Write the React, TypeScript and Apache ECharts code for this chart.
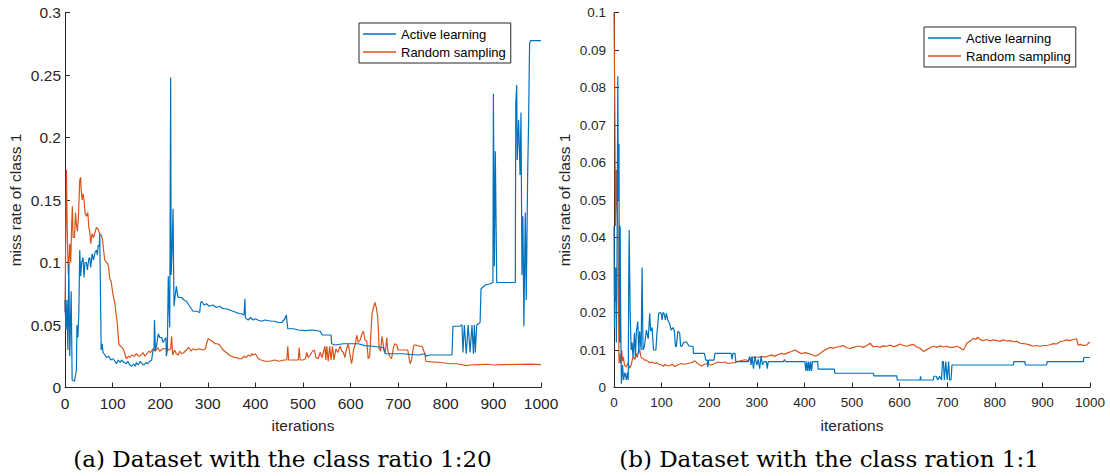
import React, { useEffect, useRef } from "react";
import * as echarts from "echarts";

const BLUE = "#0072BD";
const ORANGE = "#D95319";
const AXIS = "#262626";

const seriesNames = ["Active learning", "Random sampling"];
const captions = ["(a) Dataset with the class ratio 1:20", "(b) Dataset with the class ration 1:1"];
const yAxisName = "miss rate of class 1";
const xAxisName = "iterations";

// Panel (a): class ratio 1:20
const activeLeft: [number, number][] = [
  [0,0.07],[2,0.046],[4,0.07],[6,0.03],[8,0.099],[10,0.025],[12,0.06],[13,0.077],[15,0.006],[20,0.005],[22,0.01],[24,0.014],[25,0.05],[27,0.04],[29,0.059],[31,0.11],[33,0.089],[35,0.1],[38,0.104],[40,0.088],[42,0.1],[45,0.1],[47,0.094],[50,0.103],[52,0.104],[54,0.096],[57,0.107],[60,0.102],[63,0.108],[66,0.11],[68,0.106],[70,0.114],[72,0.113],[73,0.123],[75,0.06],[76,0.03],[78,0.035],[80,0.028],[84,0.026],[87,0.024],[92,0.025],[96,0.022],[101,0.023],[105,0.021],[108,0.019],[112,0.022],[116,0.02],[119,0.022],[124,0.02],[129,0.019],[132,0.021],[136,0.018],[140,0.017],[144,0.019],[148,0.017],[150,0.02],[154,0.018],[158,0.021],[162,0.019],[166,0.018],[170,0.02],[174,0.019],[178,0.021],[182,0.022],[185,0.03],[187,0.03],[188,0.054],[190,0.03],[193,0.035],[196,0.043],[199,0.04],[203,0.04],[206,0.036],[209,0.038],[212,0.04],[213,0.025],[215,0.03],[217,0.089],[219,0.06],[220,0.048],[222,0.248],[223,0.09],[225,0.11],[227,0.143],[228,0.1],[229,0.065],[231,0.072],[234,0.081],[236,0.075],[238,0.072],[245,0.072],[250,0.07],[255,0.069],[262,0.065],[269,0.061],[276,0.061],[283,0.06],[285,0.068],[287,0.069],[292,0.066],[297,0.067],[303,0.065],[311,0.066],[318,0.064],[325,0.065],[332,0.063],[339,0.063],[346,0.062],[353,0.061],[360,0.06],[367,0.059],[371,0.059],[376,0.058],[378,0.071],[379,0.056],[381,0.055],[385,0.054],[390,0.056],[395,0.054],[400,0.055],[405,0.054],[413,0.053],[420,0.054],[434,0.053],[440,0.053],[448,0.052],[455,0.052],[462,0.055],[465,0.058],[466,0.058],[468,0.047],[480,0.047],[490,0.046],[504,0.0455],[520,0.046],[536,0.045],[540,0.042],[559,0.042],[560,0.035],[567,0.034],[585,0.035],[616,0.035],[630,0.0335],[645,0.033],[668,0.032],[673,0.027],[707,0.027],[743,0.026],[756,0.027],[759,0.025],[765,0.026],[774,0.026],[790,0.026],[813,0.026],[815,0.049],[830,0.049],[832,0.05],[834,0.05],[836,0.028],[839,0.05],[843,0.027],[847,0.05],[851,0.028],[855,0.05],[858,0.027],[860,0.05],[862,0.028],[865,0.05],[872,0.052],[874,0.079],[883,0.082],[893,0.083],[899,0.084],[900,0.235],[902,0.097],[904,0.189],[907,0.084],[946,0.084],[947,0.227],[949,0.242],[950,0.182],[953,0.214],[956,0.17],[958,0.22],[960,0.09],[962,0.137],[964,0.049],[967,0.14],[969,0.07],[972,0.171],[974,0.214],[976,0.275],[978,0.2775],[984,0.2775],[1000,0.2775]
];
const randomLeft: [number, number][] = [
  [0,0.06],[1,0.1],[3,0.174],[5,0.12],[7,0.09],[8,0.097],[10,0.115],[12,0.1],[14,0.13],[15.5,0.145],[17,0.12],[20,0.12],[22,0.14],[24,0.13],[26,0.125],[28,0.135],[31,0.166],[33,0.168],[34,0.158],[36,0.15],[38,0.155],[40,0.15],[42,0.14],[45,0.137],[48,0.14],[50,0.128],[52,0.125],[54,0.115],[57,0.123],[60,0.12],[63,0.124],[66,0.128],[69,0.127],[73,0.123],[76,0.122],[79,0.118],[81,0.11],[83.5,0.102],[87,0.1],[90,0.099],[92,0.095],[94,0.087],[97,0.085],[99,0.079],[102,0.072],[104.5,0.068],[107,0.06],[110,0.051],[112,0.04],[113.6,0.034],[117,0.033],[120,0.032],[122,0.031],[125,0.028],[129,0.023],[133,0.025],[136,0.024],[140,0.026],[145,0.025],[150,0.027],[155,0.025],[160,0.026],[164,0.028],[168,0.025],[172,0.027],[176,0.029],[180,0.028],[185,0.031],[190,0.029],[195,0.032],[199,0.029],[205,0.031],[213,0.031],[218,0.03],[222,0.031],[224,0.041],[226,0.026],[230,0.03],[234,0.027],[238,0.026],[241,0.029],[245,0.027],[250,0.028],[255,0.03],[260,0.032],[265,0.029],[269,0.031],[275,0.03],[282,0.031],[290,0.03],[295,0.031],[298,0.036],[301,0.039],[305,0.038],[310,0.037],[315,0.035],[320,0.035],[325,0.034],[330,0.031],[335,0.029],[339,0.028],[345,0.026],[350,0.025],[355,0.024],[360,0.024],[365,0.023],[371,0.023],[376,0.025],[381,0.024],[385,0.026],[390,0.025],[392,0.027],[395,0.026],[400,0.027],[403,0.025],[406,0.023],[412,0.022],[420,0.021],[430,0.021],[440,0.022],[450,0.021],[460,0.022],[466,0.022],[468,0.033],[470,0.022],[480,0.022],[490,0.022],[492,0.032],[494,0.022],[500,0.022],[505,0.023],[508,0.028],[511,0.024],[515,0.026],[520,0.029],[524,0.03],[527,0.024],[532,0.023],[536,0.028],[540,0.024],[544,0.03],[546,0.033],[548,0.022],[550,0.033],[553,0.021],[556,0.033],[559,0.022],[562,0.033],[565,0.022],[569,0.031],[573,0.028],[578,0.033],[582,0.029],[585,0.028],[588,0.024],[591,0.03],[595,0.035],[598,0.028],[602,0.019],[604,0.023],[606,0.03],[610,0.035],[613,0.042],[616,0.036],[620,0.038],[624,0.043],[627,0.045],[630,0.038],[634,0.037],[637,0.023],[640,0.025],[643,0.045],[645,0.059],[648,0.064],[651,0.068],[654,0.064],[657,0.056],[659,0.04],[660,0.031],[663,0.029],[666,0.041],[670,0.031],[673,0.028],[676,0.04],[678,0.03],[682,0.025],[686,0.023],[690,0.032],[693,0.035],[697,0.034],[700,0.03],[710,0.03],[720,0.03],[725,0.019],[728,0.022],[731,0.03],[733,0.034],[737,0.034],[745,0.033],[750,0.033],[753,0.03],[756,0.027],[758,0.021],[770,0.0205],[790,0.02],[809,0.019],[823,0.019],[844,0.0175],[851,0.018],[870,0.0183],[888,0.0186],[900,0.018],[920,0.0183],[950,0.0185],[980,0.0187],[1000,0.0183]
];

// Panel (b): class ratio 1:1
const activeRight: [number, number][] = [
  [0,0.043],[1,0.016],[2,0.032],[3,0.023],[4,0.032],[5,0.012],[6,0.025],[8,0.083],[9,0.05],[10.5,0.065],[11,0.03],[12,0.012],[13,0.043],[14,0.02],[15.5,0.001],[18,0.006],[20,0.002],[23,0.004],[26,0.002],[28,0.004],[30,0.002],[31,0.03],[32,0.042],[33,0.03],[34,0.02],[36,0.01],[38,0.012],[40,0.008],[43,0.0145],[45,0.008],[47,0.015],[50,0.0176],[52,0.009],[54,0.015],[57,0.01],[59,0.032],[61,0.01],[64,0.011],[68,0.0153],[72,0.013],[75,0.0198],[77,0.015],[80,0.016],[83,0.01],[88,0.01],[90,0.014],[94,0.0198],[97,0.02],[99,0.0198],[101,0.018],[103,0.02],[105,0.0198],[108,0.018],[110,0.0198],[113,0.018],[117,0.017],[120,0.0153],[124,0.016],[127,0.015],[129,0.011],[131,0.0109],[134,0.015],[138,0.0145],[140,0.011],[143,0.011],[146,0.012],[152,0.0122],[158,0.011],[166,0.011],[167,0.0091],[190,0.0091],[193,0.0073],[196,0.0073],[197,0.0055],[199,0.0073],[210,0.0073],[212,0.0091],[240,0.0091],[246,0.0091],[248,0.0075],[250,0.0091],[254,0.0091],[256,0.0069],[282,0.0069],[285,0.0083],[288,0.006],[290,0.0083],[293,0.005],[296,0.0083],[300,0.006],[303,0.0075],[306,0.005],[309,0.0083],[312,0.006],[315,0.0069],[320,0.0069],[322,0.005],[324,0.0069],[352,0.0069],[356,0.0069],[358,0.0075],[360,0.0069],[401,0.0069],[403,0.0044],[405,0.0069],[407,0.0044],[409,0.0069],[411,0.0044],[413,0.0069],[415,0.0044],[417,0.0069],[428,0.0069],[429,0.0049],[463,0.0049],[464,0.0038],[545,0.0038],[546,0.0031],[594,0.0031],[595,0.002],[643,0.002],[644,0.003],[645,0.002],[671,0.002],[672,0.003],[677,0.003],[680,0.002],[684,0.003],[688,0.002],[690,0.0069],[692,0.0069],[694,0.002],[697,0.0069],[700,0.002],[703,0.0069],[705,0.002],[708,0.002],[710,0.006],[839,0.006],[840,0.0069],[863,0.0069],[864,0.006],[909,0.006],[910,0.0069],[986,0.0069],[987,0.008],[1000,0.008]
];
const randomRight: [number, number][] = [
  [0,0.1],[1.4,0.1],[2,0.07],[3,0.043],[5,0.058],[6,0.05],[7,0.047],[8.4,0.042],[10.5,0.0065],[12,0.009],[13,0.007],[14,0.0065],[16,0.01],[18,0.007],[19.6,0.0082],[22,0.006],[26,0.0055],[29,0.0065],[31,0.006],[33,0.0051],[36,0.006],[40,0.0082],[44,0.0075],[47,0.0091],[49,0.008],[51,0.0096],[54,0.01],[56,0.0085],[58,0.0078],[61,0.0078],[64,0.0073],[68,0.0073],[72,0.0069],[76,0.0066],[80,0.0068],[86,0.0064],[89,0.0066],[95,0.0062],[100,0.006],[103,0.0057],[108,0.0061],[112,0.0058],[117,0.0058],[122,0.0062],[128,0.0056],[134,0.006],[141,0.0064],[148,0.0062],[155,0.0064],[162,0.0066],[170,0.0071],[176,0.0064],[183.5,0.0057],[190,0.0062],[197,0.0064],[204,0.006],[211.5,0.0064],[218,0.0068],[226,0.0066],[232,0.0068],[240,0.0064],[247,0.0066],[254,0.0066],[261,0.007],[268,0.0072],[275,0.0074],[282,0.0072],[289,0.0078],[296,0.0082],[303,0.008],[310,0.0083],[317,0.0081],[324,0.0084],[331,0.0087],[338,0.0083],[345,0.0088],[352,0.0091],[359,0.0089],[366,0.0093],[373,0.0096],[380,0.01],[387,0.0095],[394,0.009],[401,0.0093],[408,0.0091],[415,0.0088],[422,0.0084],[429,0.0087],[436,0.0094],[443,0.01],[449,0.0104],[454,0.0107],[461,0.0105],[468,0.0108],[475,0.0109],[482,0.0112],[489,0.0106],[496,0.0104],[503,0.0107],[510,0.011],[517,0.011],[524,0.0107],[531,0.0112],[538,0.0118],[545,0.0108],[552,0.011],[559,0.0107],[566,0.0111],[573,0.011],[580,0.0113],[587,0.0109],[594,0.0111],[601,0.0116],[608,0.0112],[615,0.011],[622,0.0113],[629,0.0115],[636,0.0108],[643,0.0105],[650,0.0096],[657,0.0101],[664,0.0106],[671,0.011],[678,0.0107],[685,0.0111],[692,0.0108],[699,0.011],[706,0.0107],[713,0.0107],[720,0.011],[727,0.0106],[734,0.01],[737,0.0106],[741,0.0118],[748,0.0124],[755,0.0131],[760,0.0128],[764,0.0134],[770,0.0127],[776,0.0125],[783,0.0128],[790,0.0124],[797,0.0127],[804,0.0125],[811,0.0123],[818,0.0127],[825,0.0124],[832,0.0125],[839,0.0122],[846,0.0123],[853,0.0118],[860,0.0117],[867,0.0116],[874,0.0113],[881,0.011],[888,0.0112],[895,0.011],[902,0.0112],[909,0.0112],[916,0.0114],[923,0.0117],[930,0.0116],[937,0.0122],[944,0.0124],[951,0.0127],[958,0.0125],[965,0.0128],[972,0.013],[975,0.0113],[980,0.0115],[986,0.0112],[993,0.0113],[998,0.012],[1000,0.0121]
];

const FONT = "'Liberation Sans', Arial, sans-serif";

function xAxisCfg(gridIndex: number, labelSize: number) {
  return {
    type: "value",
    gridIndex,
    min: 0,
    max: 1000,
    interval: 100,
    name: xAxisName,
    nameLocation: "middle",
    nameGap: 30,
    nameTextStyle: { color: AXIS, fontFamily: FONT, fontSize: 15.5 },
    axisLine: { show: true, lineStyle: { color: AXIS, width: 1 } },
    axisTick: { show: true, inside: true, length: 5, lineStyle: { color: AXIS } },
    axisLabel: {
      color: AXIS,
      fontFamily: FONT,
      fontSize: labelSize,
      margin: 8,
      formatter: (v: number) => String(v),
    },
    splitLine: { show: false },
  };
}

function yAxisCfg(gridIndex: number, max: number, interval: number, labelSize: number, margin: number) {
  return {
    type: "value",
    gridIndex,
    min: 0,
    max,
    interval,
    name: yAxisName,
    nameLocation: "middle",
    nameGap: 42,
    nameTextStyle: { color: AXIS, fontFamily: FONT, fontSize: 15.5 },
    axisLine: { show: true, lineStyle: { color: AXIS, width: 1 } },
    axisTick: { show: true, inside: true, length: 5, lineStyle: { color: AXIS } },
    axisLabel: {
      color: AXIS,
      fontFamily: FONT,
      fontSize: labelSize,
      margin,
      formatter: (v: number) => String(parseFloat(v.toFixed(4))),
    },
    splitLine: { show: false },
  };
}

function lineSeries(name: string, data: [number, number][], color: string, idx: number) {
  return {
    type: "line",
    name,
    xAxisIndex: idx,
    yAxisIndex: idx,
    data,
    symbol: "none",
    showSymbol: false,
    lineStyle: { color, width: 1.2 },
    itemStyle: { color },
    z: color === BLUE ? 3 : 2,
  };
}

function legendCfg(left: number, top: number) {
  return {
    orient: "vertical",
    left,
    top,
    data: seriesNames.map((n) => ({ name: n, icon: "rect" })),
    itemWidth: 33,
    itemHeight: 1.5,
    itemGap: 4,
    padding: [4, 5, 4, 4],
    borderColor: AXIS,
    borderWidth: 1,
    backgroundColor: "#ffffff",
    selectedMode: false,
    textStyle: { color: "#000", fontFamily: FONT, fontSize: 13, lineHeight: 14 },
  };
}

export default function App() {
  const ref = useRef<HTMLDivElement>(null);
  useEffect(() => {
    if (!ref.current) return;
    const chart = echarts.init(ref.current, undefined, { renderer: "svg" });
    chart.setOption({
      animation: false,
      backgroundColor: "#ffffff",
      grid: [
        { left: 65, top: 12.5, width: 476, height: 375, containLabel: false },
        { left: 614, top: 12.5, width: 476, height: 375, containLabel: false },
      ],
      xAxis: [xAxisCfg(0, 15.5), xAxisCfg(1, 13.5)],
      yAxis: [yAxisCfg(0, 0.3, 0.05, 15.5, 4), yAxisCfg(1, 0.1, 0.01, 13.5, 8)],
      legend: [legendCfg(359, 23), legendCfg(924, 27)],
      series: [
        lineSeries(seriesNames[0], activeLeft, BLUE, 0),
        lineSeries(seriesNames[1], randomLeft, ORANGE, 0),
        lineSeries(seriesNames[0], activeRight, BLUE, 1),
        lineSeries(seriesNames[1], randomRight, ORANGE, 1),
      ],
      graphic: [
        {
          type: "text",
          x: 282.5,
          y: 459,
          style: {
            text: captions[0],
            font: "23px 'DejaVu Serif', serif",
            fill: "#000",
            align: "center",
            verticalAlign: "middle",
          },
        },
        {
          type: "text",
          x: 829,
          y: 459,
          style: {
            text: captions[1],
            font: "23px 'DejaVu Serif', serif",
            fill: "#000",
            align: "center",
            verticalAlign: "middle",
          },
        },
      ],
    });
    return () => chart.dispose();
  }, []);
  return (
    <div
      ref={ref}
      style={{ position: "fixed", left: 0, top: 0, width: 1110, height: 476, background: "#fff" }}
    />
  );
}
